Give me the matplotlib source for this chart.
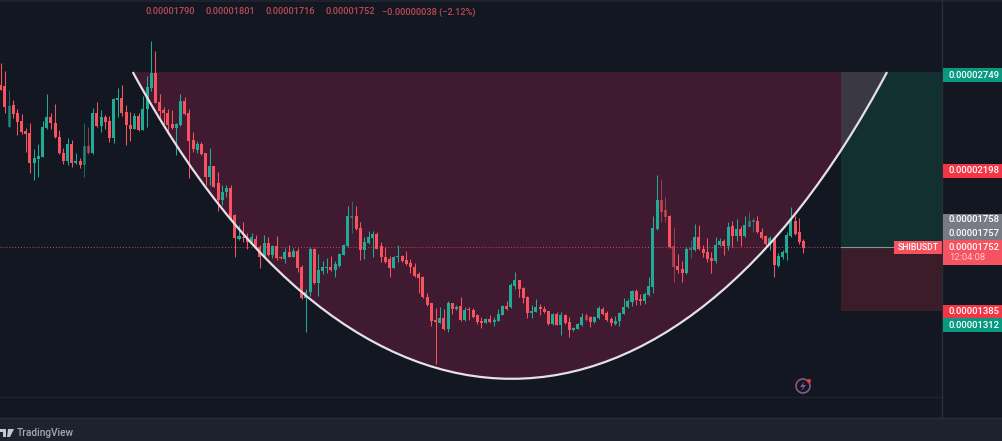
import matplotlib
matplotlib.use('Agg')
import matplotlib.pyplot as plt
from matplotlib.colors import to_rgba
from matplotlib.patches import PathPatch, Rectangle, Circle, Polygon
from matplotlib.path import Path
import numpy as np

plt.rcParams['font.family'] = ['Roboto', 'DejaVu Sans']

# prices are in units of 0.00000001
opens = [2675,2670,2438,2561,2518,2470,2413,2400,2233,2256,2267,2428,2495,2457,2377,2290,2244,2339,2229,2244,
         2221,2328,2286,2514,2442,2491,2470,2375,2590,2601,2522,2449,2427,2499,2419,2539,2657,2742,2581,2533,
         2518,2453,2432,2446,2584,2514,2362,2305,2339,2286,2153,2214,2115,2020,2067,2090,1935,1796,1811,1801,
         1782,1796,1750,1697,1773,1706,1758,1697,1682,1725,1697,1729,1636,1459,1497,1741,1545,1613,1632,1636,
         1621,1644,1708,1758,1916,1929,1860,1735,1773,1803,1826,1758,1697,1682,1634,1697,1701,1678,1663,1636,
         1598,1583,1469,1431,1336,1321,1345,1287,1431,1397,1416,1336,1397,1393,1365,1328,1321,1342,1325,1332,
         1366,1416,1408,1530,1564,1516,1465,1374,1383,1410,1401,1387,1313,1370,1309,1366,1323,1279,1287,1306,
         1365,1355,1325,1345,1401,1378,1344,1311,1330,1370,1408,1441,1503,1456,1446,1478,1524,1855,2020,1963,
         1931,1758,1644,1629,1602,1735,1735,1811,1743,1724,1689,1672,1762,1788,1756,1872,1815,1857,1815,1868,
         1896,1902,1838,1815,1765,1801,1644,1693,1720,1815,1902,1838,1788]
highs = [2799,2755,2647,2590,2537,2510,2428,2457,2309,2339,2470,2622,2514,2565,2419,2318,2371,2362,2286,2257,
         2457,2434,2542,2577,2533,2506,2499,2599,2657,2675,2561,2523,2514,2514,2613,2727,2928,2869,2624,2548,
         2541,2533,2457,2622,2609,2541,2409,2358,2352,2290,2316,2214,2181,2105,2105,2105,1940,1877,1896,1830,
         1830,1820,1763,1820,1811,1763,1815,1701,1744,1763,1744,1744,1650,1511,1750,1744,1712,1674,1687,1701,
         1674,1716,1769,1986,2012,1986,1896,1811,1843,1843,1839,1783,1754,1701,1701,1763,1707,1729,1682,1659,
         1611,1587,1488,1431,1403,1408,1397,1444,1435,1421,1469,1412,1412,1403,1370,1351,1346,1365,1355,1397,
         1421,1444,1549,1611,1564,1526,1473,1421,1454,1425,1416,1389,1374,1383,1383,1370,1351,1298,1321,1378,
         1374,1359,1359,1416,1412,1389,1355,1361,1382,1459,1454,1507,1511,1484,1494,1579,1929,2162,2140,2035,
         1935,1864,1712,1674,1750,1792,1881,1877,1763,1801,1725,1807,1801,1796,1895,1900,1910,1872,1929,1952,
         1915,1929,1858,1820,1815,1807,1716,1735,1840,1978,1929,1915,1796]
lows = [2647,2514,2438,2485,2391,2396,2295,2172,2134,2149,2263,2425,2423,2371,2282,2225,2219,2210,2225,2200,
        2153,2282,2282,2438,2410,2427,2352,2347,2495,2499,2333,2358,2423,2415,2419,2438,2643,2571,2476,2453,
        2396,2425,2276,2442,2506,2143,2295,2290,2278,2106,2106,2096,1959,1991,2039,1906,1697,1792,1782,1739,
        1773,1745,1631,1693,1701,1687,1678,1682,1659,1693,1693,1612,1454,1269,1473,1541,1473,1598,1602,1615,
        1579,1640,1705,1754,1834,1849,1678,1686,1769,1697,1739,1668,1663,1583,1630,1668,1668,1650,1602,1583,
        1488,1459,1416,1302,1085,1317,1279,1270,1370,1393,1332,1332,1336,1346,1313,1292,1317,1321,1302,1328,
        1363,1393,1404,1511,1469,1435,1346,1349,1380,1365,1374,1307,1309,1306,1250,1313,1237,1275,1283,1302,
        1332,1298,1321,1342,1363,1332,1302,1307,1302,1368,1404,1416,1421,1421,1425,1475,1492,1849,1896,1896,
        1745,1555,1602,1555,1598,1688,1731,1735,1693,1668,1606,1659,1758,1706,1735,1750,1788,1758,1811,1864,
        1840,1834,1796,1758,1735,1583,1640,1682,1678,1811,1820,1769,1716]
closes = [2647,2552,2556,2510,2465,2408,2396,2229,2257,2271,2436,2495,2461,2377,2286,2244,2339,2233,2244,2221,
          2328,2286,2514,2444,2491,2465,2375,2596,2601,2518,2449,2427,2499,2419,2539,2662,2742,2575,2527,2514,
          2447,2429,2453,2584,2510,2358,2309,2339,2282,2153,2214,2096,2020,2067,2090,1915,1801,1815,1801,1782,
          1811,1750,1697,1773,1706,1758,1687,1687,1725,1697,1729,1631,1459,1497,1741,1545,1621,1636,1636,1619,
          1653,1712,1763,1931,1929,1853,1735,1779,1807,1826,1743,1693,1667,1634,1697,1703,1674,1655,1636,1587,
          1574,1465,1421,1332,1325,1345,1287,1435,1397,1410,1336,1393,1393,1355,1327,1321,1342,1325,1336,1370,
          1418,1397,1535,1564,1511,1460,1374,1387,1410,1399,1382,1313,1370,1309,1366,1317,1279,1292,1311,1355,
          1336,1323,1355,1402,1368,1336,1317,1332,1374,1410,1444,1503,1450,1446,1484,1530,1858,2020,1953,1925,
          1750,1640,1621,1606,1741,1745,1811,1739,1716,1682,1672,1765,1788,1760,1866,1815,1857,1815,1877,1902,
          1906,1838,1801,1769,1805,1649,1701,1722,1820,1902,1824,1781,1748]
faded = [2,20,21,84,140,158,159,161,165,179,180]

top_price = 2749
entry_price = 1752
stop_price = 1385
arc_left = (31.6, 2749)
arc_ctrl1 = (84.8, 418)
arc_ctrl2 = (159.9, 418)
arc_right = (212.0, 2749)
zone_left = 200.9
zone_right = 225.2

header_values = ['0.00001790', '0.00001801', '0.00001716', '0.00001752', '\u22120.00000038 (\u22122.12%)']
header_x = [146, 206, 266, 326, 382]
label_texts = ['0.00002749', '0.00002198', '0.00001385', '0.00001312']
label_y = [75, 170.5, 311.5, 325]
label_colors = ['#089981', '#f23645', '#f23645', '#089981']

BG = '#131722'
RED = '#f7525f'
GREEN = '#22ab94'
LABEL_FS = 6.8

fig = plt.figure(figsize=(10.02, 4.41), dpi=100, facecolor=BG)
ax = fig.add_axes([0, 0, 1, 1], facecolor=BG)
ax.set_xlim(-0.167, 239.5)
ax.set_ylim(1752 - 194 * 5.7, 1752 + 247 * 5.7)
ax.axis('off')

# zones
ax.add_patch(Rectangle((zone_left, entry_price), zone_right - zone_left, top_price - entry_price,
                       fc='#11302f', ec='none', zorder=1))
ax.add_patch(Rectangle((zone_left, stop_price), zone_right - zone_left, entry_price - stop_price,
                       fc='#3a1d29', ec='none', zorder=1))
verts = [arc_left, arc_ctrl1, arc_ctrl2, arc_right, arc_left]
codes = [Path.MOVETO, Path.CURVE4, Path.CURVE4, Path.CURVE4, Path.CLOSEPOLY]
ax.add_patch(PathPatch(Path(verts, codes), fc='#3f1a30', ec='none', zorder=2))
overlap = PathPatch(Path(verts, codes), fc='#3a3843', ec='none', zorder=3)
ax.add_patch(overlap)
overlap.set_clip_path(Rectangle((zone_left, entry_price), zone_right - zone_left, top_price - entry_price,
                                transform=ax.transData))

ax.plot([-0.167, zone_left], [entry_price, entry_price], color=RED, lw=0.7, ls=(0, (1, 2)), alpha=0.8, zorder=4)
ax.plot([zone_left, zone_right], [entry_price, entry_price], color='#8a8f9a', lw=0.8, zorder=4)

# candles
x = np.arange(len(opens))
o = np.array(opens)
c = np.array(closes)
colors = [to_rgba(GREEN if c[i] >= o[i] else RED, 0.55 if i in faded else 1.0) for i in x]
ax.vlines(x, lows, highs, colors=colors, lw=0.75, zorder=5)
ax.bar(x, np.abs(c - o), bottom=np.minimum(o, c), width=0.72, color=colors, lw=0, zorder=6)

# arc line
ax.add_patch(PathPatch(Path(verts[:4], codes[:4]), fc='none', ec='#e6dfe4', lw=1.6, zorder=7))

# interface drawn in pixel coordinates
ui = fig.add_axes([0, 0, 1, 1], facecolor='none', zorder=5)
ui.set_xlim(0, 1002)
ui.set_ylim(441, 0)
ui.axis('off')

ui.add_patch(Rectangle((0, 0), 1002, 1.5, fc='#1e222d', ec='none'))
ui.plot([0, 942], [397, 397], color='#1e222d', lw=1)
ui.plot([942, 942], [0, 418], color='#2a2e39', lw=1)
ui.add_patch(Rectangle((0, 418), 1002, 23, fc='#1e222d', ec='none'))
ui.plot([0, 1002], [418, 418], color='#2a2e39', lw=1)

for txt, px_x in zip(header_values, header_x):
    ui.text(px_x, 12, txt, color='#c24a53', fontsize=6.6, fontweight='medium', va='center', ha='left')

for txt, yc, col in zip(label_texts, label_y, label_colors):
    ui.add_patch(Rectangle((943, yc - 7), 59, 14, fc=col, ec='none', zorder=3))
    ui.text(949, yc, txt, color='#ffffff', fontsize=LABEL_FS, fontweight='medium', va='center', ha='left', zorder=4)

ui.add_patch(Rectangle((943, 213.5), 59, 26.5, fc='#787b86', ec='none', zorder=3))
ui.text(949, 220, '0.00001758', color='#ffffff', fontsize=LABEL_FS, fontweight='medium', va='center', ha='left', zorder=4)
ui.text(949, 233, '0.00001757', color='#ffffff', fontsize=LABEL_FS, fontweight='medium', va='center', ha='left', zorder=4)

ui.add_patch(Rectangle((943, 240), 59, 25, fc=RED, ec='none', zorder=3))
ui.text(949, 247, '0.00001752', color='#ffffff', fontsize=LABEL_FS, fontweight='medium', va='center', ha='left', zorder=4)
ui.text(949, 258, '12:04:08', color='#ffc9cd', fontsize=LABEL_FS, va='center', ha='left', zorder=4)
ui.add_patch(Rectangle((894, 241), 48, 13, fc=RED, ec='none', zorder=3))
ui.text(918, 247.5, 'SHIBUSDT', color='#ffffff', fontsize=6.2, fontweight='medium', va='center', ha='center', zorder=4)

# lightning badge
ui.add_patch(Circle((803, 386), 7, fc='none', ec='#85598a', lw=1.2))
ui.add_patch(Polygon([(804.5, 381.5), (800, 387), (803, 387), (801.5, 391), (806, 385), (803, 385)],
                     fc='#85598a', ec='none'))
ui.add_patch(Circle((809, 381), 2, fc='#f23645', ec='none'))

# logo
ui.add_patch(Polygon([(0, 429), (6, 429), (6, 437), (3, 437), (3, 432), (0, 432)], fc='#c5c8d0', ec='none'))
ui.add_patch(Polygon([(8, 429), (14, 429), (10, 437), (7, 437)], fc='#c5c8d0', ec='none'))
ui.text(17, 433, 'TradingView', color='#a6a9b3', fontsize=7.3, fontweight='medium', va='center', ha='left')

fig.savefig('out.png', dpi=100, facecolor=BG)
